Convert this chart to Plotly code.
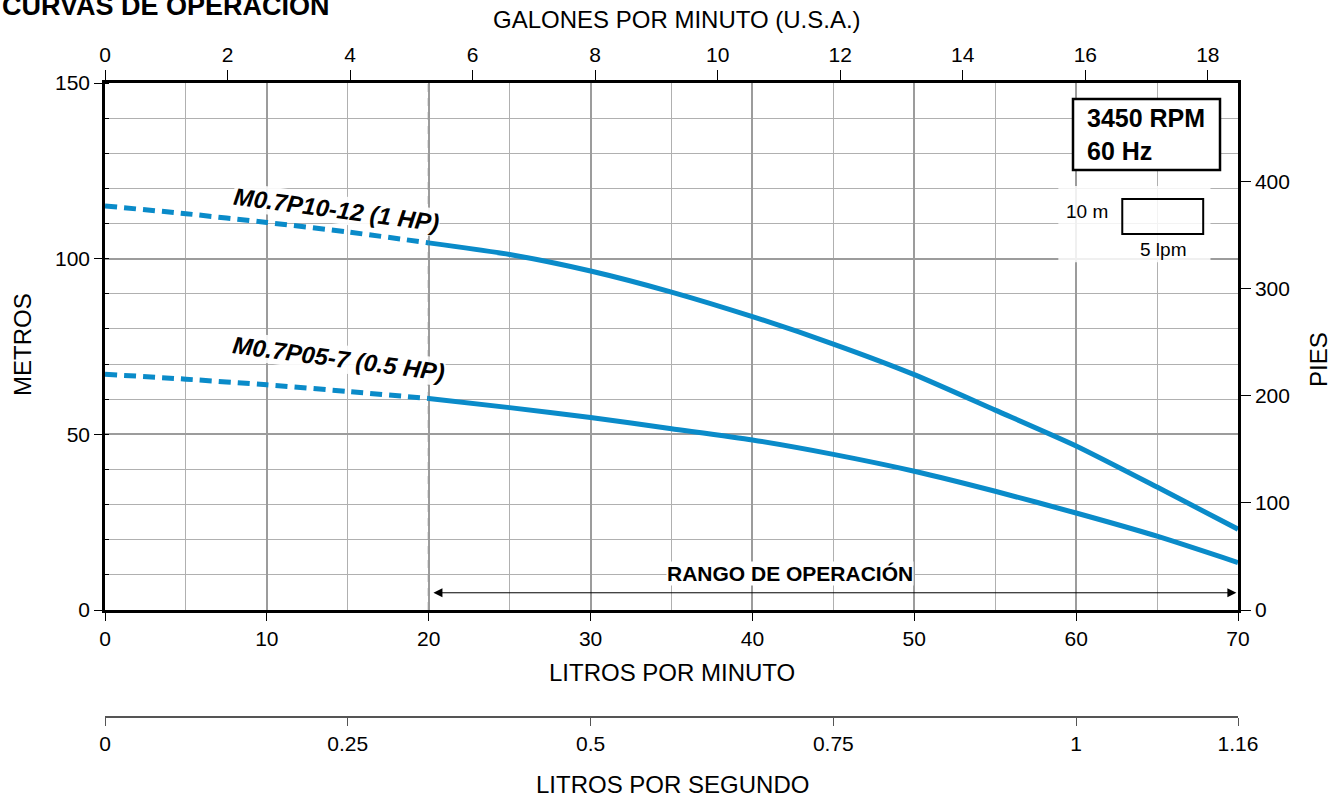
import plotly.graph_objects as go

# ---- data ----
lpm = [0, 5, 10, 15, 20, 25, 30, 35, 40, 45, 50, 55, 60, 65, 70]
head_1hp = [115, 112.8, 110.3, 107.6, 104.5, 101.2, 96.5, 90.5, 83.5, 75.7, 67, 56.9, 46.7, 35, 23]
head_05hp = [67.1, 65.7, 64.1, 62.2, 60.2, 57.6, 54.8, 51.6, 48.4, 44.3, 39.5, 33.8, 27.6, 21, 13.5]
gpm_ticks = [0, 2, 4, 6, 8, 10, 12, 14, 16, 18]
ft_ticks = [0, 100, 200, 300, 400]
lps_tick_lpm = [0, 15, 30, 45, 60, 70]
lps_tick_text = ["0", "0.25", "0.5", "0.75", "1", "1.16"]
op_min, op_max = 20, 70

FONT = "Liberation Sans, Arial, sans-serif"
BLUE = "#0a8bc9"
W, H = 1343, 799
L, R, T, B = 105, 105, 83, 82
PW = W - L - R
PH = H - T - B


def px(xp):
    return (xp - L) / PW


def py(yp):
    return (H - B - yp) / PH


split = lpm.index(op_min)
fig = go.Figure()
for heads in (head_1hp, head_05hp):
    fig.add_trace(go.Scatter(x=lpm[:split + 1], y=heads[:split + 1], mode="lines",
                             line=dict(color=BLUE, width=5, dash="12px,7px", shape="spline", smoothing=0.6),
                             hoverinfo="skip", showlegend=False))
    fig.add_trace(go.Scatter(x=lpm[split:], y=heads[split:], mode="lines",
                             line=dict(color=BLUE, width=5, shape="spline", smoothing=0.6),
                             hoverinfo="skip", showlegend=False))

# invisible traces to activate extra axes
fig.add_trace(go.Scatter(x=[0], y=[0], xaxis="x2", yaxis="y", mode="markers",
                         marker=dict(opacity=0), hoverinfo="skip", showlegend=False))
fig.add_trace(go.Scatter(x=[0], y=[0], xaxis="x", yaxis="y2", mode="markers",
                         marker=dict(opacity=0), hoverinfo="skip", showlegend=False))
fig.add_trace(go.Scatter(x=[0], y=[0], xaxis="x3", yaxis="y", mode="markers",
                         marker=dict(opacity=0), hoverinfo="skip", showlegend=False))

ydom = [py(610), 1]
tickfont = dict(family=FONT, size=21, color="black")

fig.update_layout(
    width=W, height=H, margin=dict(l=L, r=R, t=T, b=B),
    paper_bgcolor="white", plot_bgcolor="white",
    font=dict(family=FONT, color="black"),
    xaxis=dict(range=[0, 70], dtick=10, tick0=0, anchor="y", showline=True, linecolor="black", linewidth=2.5,
               ticks="outside", ticklen=8, tickcolor="black", tickwidth=1, tickfont=tickfont,
               showgrid=True, gridcolor="#9c9c9c", gridwidth=2, zeroline=False,
               minor=dict(dtick=5, showgrid=True, gridcolor="#b0b0b0", gridwidth=1)),
    yaxis=dict(range=[0, 150], dtick=50, domain=ydom, showline=True, linecolor="black", linewidth=2.5,
               ticks="outside", ticklen=8, tickcolor="black", tickwidth=1, tickfont=tickfont,
               showgrid=True, gridcolor="#9c9c9c", gridwidth=2, zeroline=False,
               minor=dict(dtick=10, showgrid=True, gridcolor="#b0b0b0", gridwidth=1,
                          ticks="inside", ticklen=4, tickcolor="black")),
    yaxis2=dict(range=[0, 150 * 3.28084], overlaying="y", side="right", anchor="x", tickvals=ft_ticks,
                showline=True, linecolor="black", linewidth=2.5, ticks="outside", ticklen=10,
                tickcolor="black", tickfont=tickfont, showgrid=False, zeroline=False),
    xaxis2=dict(range=[0, 70 / 3.78541], overlaying="x", side="top", anchor="y", tickvals=gpm_ticks,
                showline=True, linecolor="black", linewidth=2.5, ticks="outside", ticklen=10,
                tickcolor="black", tickfont=tickfont, showgrid=False, zeroline=False),
    xaxis3=dict(range=[0, 70], overlaying="x", side="bottom", anchor="free", position=0,
                tickvals=lps_tick_lpm, ticktext=lps_tick_text,
                showline=True, linecolor="#555555", linewidth=2, ticks="outside", ticklen=8,
                tickcolor="#555555", tickfont=tickfont, showgrid=False, zeroline=False),
)

shapes = []
# operating range start line
shapes.append(dict(type="line", xref="x", yref="y", x0=op_min, x1=op_min, y0=0, y1=150,
                   line=dict(color="#9a9a9a", width=2, dash="8px,6px"), layer="between"))
# RPM box
shapes.append(dict(type="rect", xref="paper", yref="paper", x0=px(1073), x1=px(1220), y0=py(170), y1=py(99),
                   line=dict(color="black", width=2.5), fillcolor="white", layer="above"))
# scale legend background
shapes.append(dict(type="rect", xref="x", yref="y", x0=58.9, x1=68.3, y0=99.0, y1=120.7,
                   line=dict(width=0), fillcolor="rgba(255,255,255,0.85)", layer="above"))
# scale rectangle: 5 lpm x 10 m
shapes.append(dict(type="rect", xref="x", yref="y", x0=62.85, x1=67.85, y0=107, y1=117,
                   line=dict(color="black", width=2), fillcolor="rgba(0,0,0,0)", layer="above"))
fig.update_layout(shapes=shapes)

ann = []
ann.append(dict(text="<b>CURVAS DE OPERACIÓN</b>", xref="paper", yref="paper", x=px(0), y=py(5.5),
                xanchor="left", yanchor="middle", showarrow=False, font=dict(family=FONT, size=27)))
ann.append(dict(text="GALONES POR MINUTO (U.S.A.)", xref="paper", yref="paper", x=px(677), y=py(20),
                xanchor="center", yanchor="middle", showarrow=False, font=dict(family=FONT, size=24)))
ann.append(dict(text="LITROS POR MINUTO", xref="paper", yref="paper", x=px(672), y=py(672),
                xanchor="center", yanchor="middle", showarrow=False, font=dict(family=FONT, size=24)))
ann.append(dict(text="LITROS POR SEGUNDO", xref="paper", yref="paper", x=px(672), y=py(784),
                xanchor="center", yanchor="middle", showarrow=False, font=dict(family=FONT, size=24)))
ann.append(dict(text="METROS", xref="paper", yref="paper", x=px(22), y=py(345), textangle=-90,
                xanchor="center", yanchor="middle", showarrow=False, font=dict(family=FONT, size=24)))
ann.append(dict(text="PIES", xref="paper", yref="paper", x=px(1319), y=py(360), textangle=-90,
                xanchor="center", yanchor="middle", showarrow=False, font=dict(family=FONT, size=24)))
ann.append(dict(text="<b>3450 RPM<br>60 Hz</b>", xref="paper", yref="paper", x=px(1085), y=py(134),
                xanchor="left", yanchor="middle", align="left", showarrow=False,
                font=dict(family=FONT, size=25)))
ann.append(dict(text="10 m", xref="x", yref="y", x=60.7, y=113.3, showarrow=False,
                font=dict(family=FONT, size=19)))
ann.append(dict(text="5 lpm", xref="x", yref="y", x=65.35, y=102.6, showarrow=False,
                font=dict(family=FONT, size=19)))
ann.append(dict(text="<b><i>M0.7P10-12 (1 HP)</i></b>", xref="x", yref="y", x=14.3, y=113.9, textangle=7.5,
                showarrow=False, bgcolor="rgba(255,255,255,0.9)", borderpad=0, font=dict(family=FONT, size=24)))
ann.append(dict(text="<b><i>M0.7P05-7 (0.5 HP)</i></b>", xref="x", yref="y", x=14.4, y=71.7, textangle=7.5,
                showarrow=False, bgcolor="rgba(255,255,255,0.9)", borderpad=0, font=dict(family=FONT, size=24)))
ann.append(dict(text="<b>RANGO DE OPERACIÓN</b>", xref="x", yref="y", x=42.3, y=10.3,
                showarrow=False, bgcolor="white", borderpad=0, font=dict(family=FONT, size=21)))
ann.append(dict(text="", xref="x", yref="y", x=op_max - 0.1, y=4.9, ax=op_min + 0.2, ay=4.9,
                axref="x", ayref="y", showarrow=True, arrowside="end+start", arrowhead=2, startarrowhead=2,
                arrowsize=1.8, startarrowsize=1.8, arrowwidth=1, arrowcolor="black", standoff=0, startstandoff=0))
fig.update_layout(annotations=ann)

fig.write_html("out.html", config={"displayModeBar": False},
               post_script="document.body.style.margin='0px';")
